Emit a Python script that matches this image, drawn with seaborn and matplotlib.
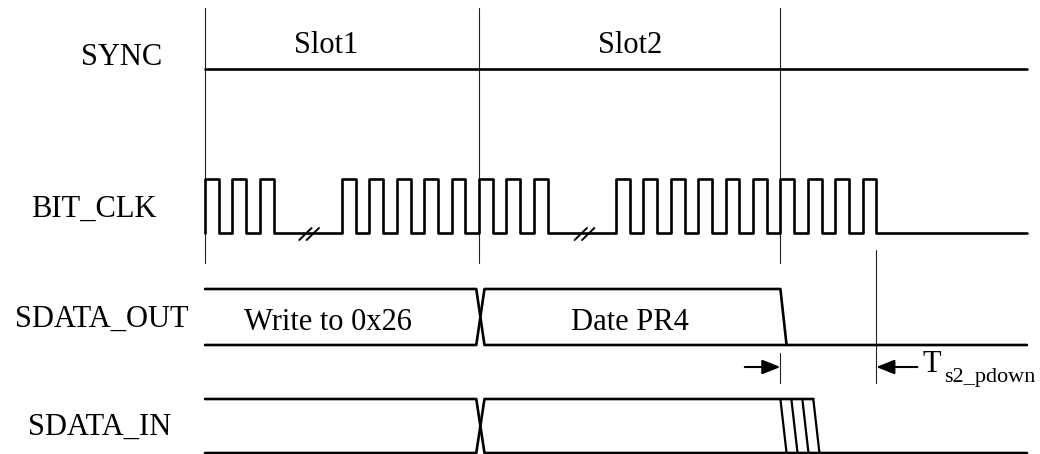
import matplotlib
matplotlib.use("Agg")
import matplotlib.pyplot as plt
import seaborn as sns
import pandas as pd

# ---- data (time in clock half-periods) ----
signals = ["SYNC", "BIT_CLK", "SDATA_OUT", "SDATA_IN"]
slot_labels = ["Slot1", "Slot2"]
slot_edges = [0, 20, 42]
clk_rises = [0, 2, 4, 10, 12, 14, 16, 18,
             20, 22, 24, 30, 32, 34, 36, 38, 40, 42, 44, 46, 48]
clk_breaks = [7.6, 27.7]
t_end = 60
data_change = [19.8, 20.4]          # bus crossing start / end
out_fall = [42, 42.45]              # SDATA_OUT drops at end of slot2
in_falls = [42, 42.8, 43.6, 44.4]   # SDATA_IN ragged drop
fall_dt = 0.45
pdown_mark = 49
data_labels = ["Write to 0x26", "Date PR4"]

# ---- layout (pixel rows, y grows downward) ----
W, H = 1040, 454
px0, px_per_t = 205, 13.7
levels = {"SYNC": (69, 69), "BIT_CLK": (179, 233),
          "SDATA_OUT": (289, 345), "SDATA_IN": (399, 453)}
label_pos = {"SYNC": (-6.1, 65), "BIT_CLK": (-8.1, 217),
             "SDATA_OUT": (-7.5, 327), "SDATA_IN": (-7.7, 435)}
FS = 22
LW = 1.9

sns.set_style("white")
plt.rcParams["font.family"] = ["Liberation Serif", "DejaVu Serif"]
plt.rcParams["text.color"] = "black"

fig = plt.figure(figsize=(W / 100, H / 100), dpi=100)
ax = fig.add_axes([0, 0, 1, 1])
ax.set_xlim(-px0 / px_per_t, (W - px0) / px_per_t)
ax.set_ylim(H, 0)
ax.axis("off")


def trace(pts, lw=LW, color="black"):
    df = pd.DataFrame(pts, columns=["t", "y"])
    sns.lineplot(data=df, x="t", y="y", sort=False, estimator=None,
                 color=color, lw=lw, ax=ax, legend=False)


# guide lines
for t in slot_edges:
    ax.plot([t, t], [8, 263], color="#222222", lw=0.8)
ax.plot([pdown_mark, pdown_mark], [250, 383], color="#222222", lw=0.8)
ax.plot([slot_edges[2], slot_edges[2]], [353, 383], color="#222222", lw=0.8)

# SYNC
trace([(0, levels["SYNC"][0]), (t_end, levels["SYNC"][0])])

# BIT_CLK
hi, lo = levels["BIT_CLK"]
pts = []
for r in clk_rises:
    pts += [(r, lo), (r, hi), (r + 1, hi), (r + 1, lo)]
pts.append((t_end, lo))
trace(pts)
for c in clk_breaks:
    for off in (-0.27, 0.27):
        trace([(c + off - 0.45, lo + 7), (c + off + 0.45, lo - 5)], lw=1.4)

# SDATA_OUT
hi, lo = levels["SDATA_OUT"]
a, b = data_change
trace([(0, hi), (a, hi), (b, lo), (t_end, lo)])
trace([(0, lo), (a, lo), (b, hi), (out_fall[0], hi), (out_fall[1], lo)])

# SDATA_IN
hi, lo = levels["SDATA_IN"]
trace([(0, hi), (a, hi), (b, lo), (t_end, lo)])
trace([(0, lo), (a, lo), (b, hi), (in_falls[-1], hi)])
for f in in_falls:
    trace([(f, hi), (f + fall_dt, lo)], lw=1.6)

# timing arrows
arr = dict(arrowstyle="-|>,head_length=0.55,head_width=0.22",
           mutation_scale=20, color="black", lw=1.5, shrinkA=0, shrinkB=0)
ax.annotate("", xy=(slot_edges[2], 367), xytext=(39.4, 367), arrowprops=arr)
ax.annotate("", xy=(pdown_mark, 367), xytext=(52.0, 367), arrowprops=arr)
ax.text(52.35, 372, "T", fontsize=FS, ha="left", va="baseline", color="black")
ax.text(53.95, 382, "s2_pdown", fontsize=16, ha="left", va="baseline", color="black")

# labels
for name in signals:
    x, y = label_pos[name]
    ax.text(x, y, name, fontsize=FS, ha="center", va="baseline", color="black")
for lab, x in zip(slot_labels, [8.85, 31.0]):
    ax.text(x, 53, lab, fontsize=FS, ha="center", va="baseline", color="black")
for lab, x in zip(data_labels, [9.0, 31.0]):
    ax.text(x, 330, lab, fontsize=FS, ha="center", va="baseline", color="black")

fig.savefig("out.png", dpi=100, facecolor="white")
